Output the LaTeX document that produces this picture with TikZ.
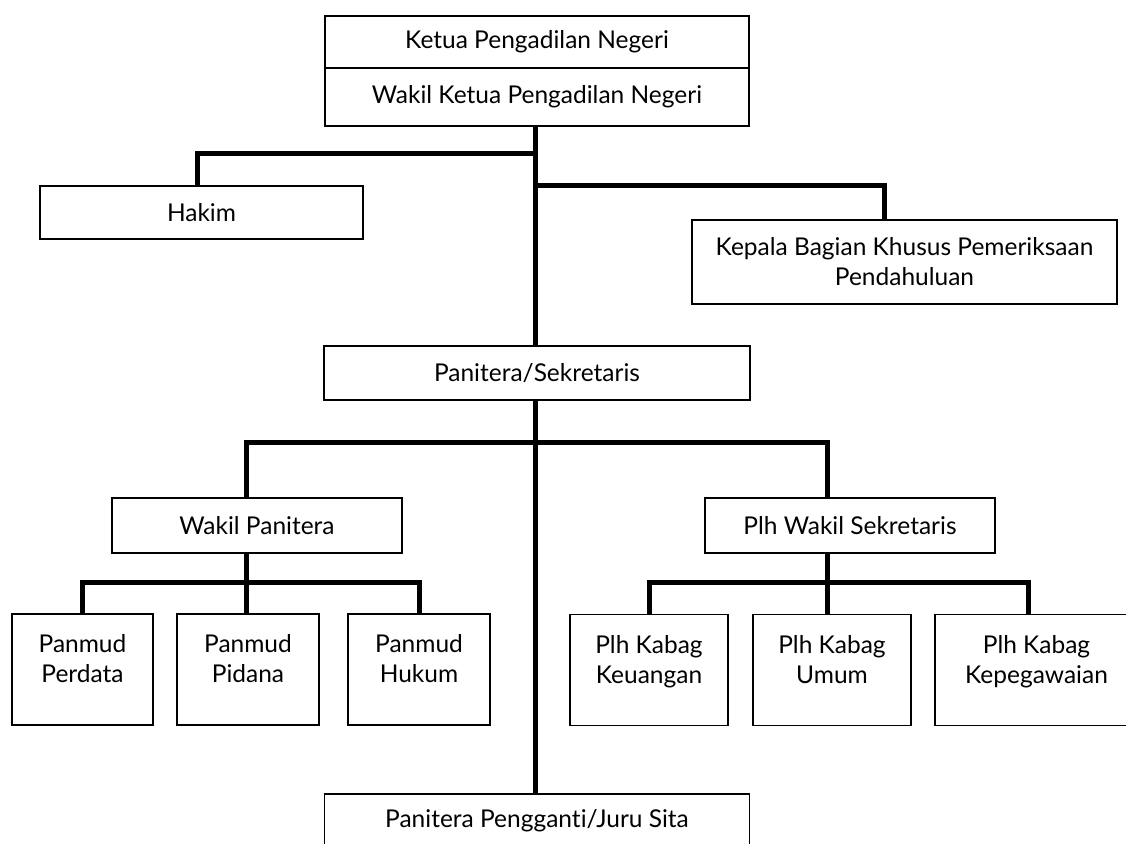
\documentclass[tikz,border=0pt]{standalone}
\usepackage{fontspec}
\setmainfont{Lato}[Ligatures=NoCommon]
\newcommand{\lowpad}{\rule[-22pt]{0pt}{22pt}}

\begin{document}
\begin{tikzpicture}[x=1pt, y=-1pt,
  unit/.style={draw, line width=1.4pt, inner sep=0pt, align=center,
    font=\fontsize{24.5}{30}\selectfont},
  tall/.style={unit, minimum height=111},
  link/.style={line width=5pt}]

\useasboundingbox (0,0) rectangle (1126,843);
\clip (0,0) rectangle (1126,843);

%% ===================== Top: court leadership =====================
\node[unit, minimum width=424, minimum height=52] (ketua) at (537,42) {Ketua Pengadilan Negeri};
\node[unit, minimum width=424, minimum height=58] (wakil) at (537,97) {Wakil Ketua Pengadilan Negeri};

\node[unit, minimum width=323, minimum height=53] (hakim) at (201.5,212.5) {Hakim};
\node[unit, minimum width=425, minimum height=84] (kepala) at (904.5,262)
  {Kepala Bagian Khusus Pemeriksaan\\Pendahuluan};

\node[unit, minimum width=426, minimum height=54] (panitera) at (537,373) {Panitera/Sekretaris};

%% ===================== Middle: deputies =====================
\node[unit, minimum width=290, minimum height=55] (wapan) at (257,525.5) {Wakil Panitera};
\node[unit, minimum width=290, minimum height=55] (wasek) at (850,525.5) {Plh Wakil Sekretaris};

%% ===================== Bottom row =====================
\node[tall, minimum width=141] (perdata) at (82.5,669.5) {Panmud\\Perdata\lowpad};
\node[tall, minimum width=142] (pidana)  at (248,669.5)  {Panmud\\Pidana\lowpad};
\node[tall, minimum width=142] (hukum)   at (419,669.5)  {Panmud\\Hukum\lowpad};

\node[tall, minimum width=158] (keuangan) at (649,670)    {Plh Kabag\\Keuangan\lowpad};
\node[tall, minimum width=158] (umum)     at (832,670)    {Plh Kabag\\Umum\lowpad};
\node[tall, minimum width=203] (kepeg)    at (1036.5,670) {Plh Kabag\\Kepegawaian\lowpad};

\node[unit, minimum width=425, minimum height=54] (pengganti) at (537,821) {Panitera Pengganti/Juru Sita};

%% ===================== Connectors =====================
\coordinate (spine)   at (535,0);
\coordinate (hakimx)  at (197,0);
\coordinate (kepalax) at (884,0);
\coordinate (wapanx)  at (246,0);
\coordinate (wasekx)  at (827,0);
\coordinate (kepegx)  at (1028,0);
\coordinate (hakimbus)  at (0,153);
\coordinate (kepalabus) at (0,185);
\coordinate (staffbus)  at (0,442);
\coordinate (subbus)    at (0,582);

% main spine
\draw[link] (wakil.south -| spine) -- (panitera.north -| spine);
\draw[link] (panitera.south -| spine) -- (pengganti.north -| spine);

% side branches off the spine
\draw[link] (spine |- hakimbus) -| (hakim.north -| hakimx);
\draw[link] (spine |- kepalabus) -| (kepala.north -| kepalax);

% deputies
\draw[link] (wapan.north -| wapanx) -- (wapanx |- staffbus)
  -- (wasekx |- staffbus) -- (wasek.north -| wasekx);

% left group
\draw[link] (wapan.south -| wapanx) -- (pidana.north -| wapanx);
\draw[link] (perdata.north) -- (perdata.north |- subbus)
  -- (hukum.north |- subbus) -- (hukum.north);

% right group
\draw[link] (wasek.south -| wasekx) -- (umum.north -| wasekx);
\draw[link] (keuangan.north) -- (keuangan.north |- subbus)
  -- (kepegx |- subbus) -- (kepeg.north -| kepegx);

\end{tikzpicture}
\end{document}
